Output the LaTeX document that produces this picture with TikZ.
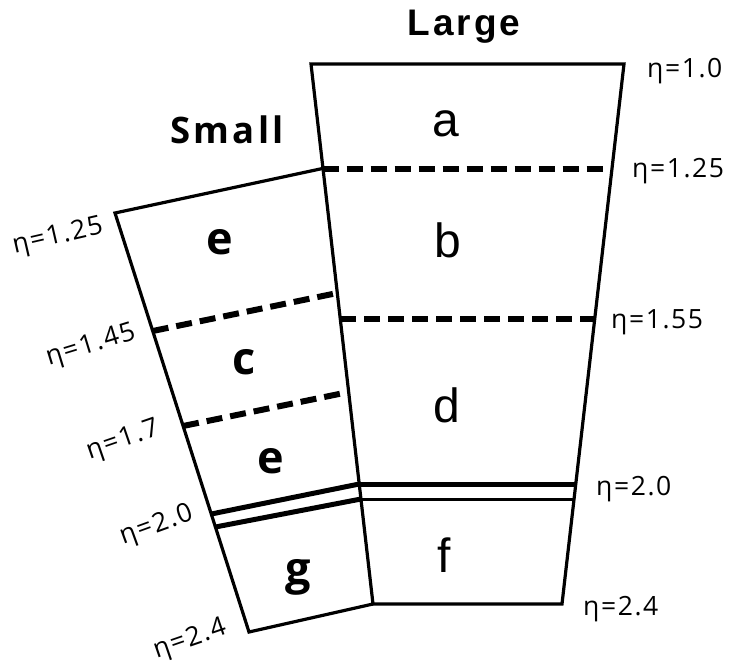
\documentclass[tikz,border=0pt]{standalone}
\usepackage{fontspec}
\setmainfont{Open Sans}
\newfontfamily\labfont[LetterSpace=6]{Open Sans}
\newfontfamily\titfont[LetterSpace=8]{Liberation Sans}
\newfontfamily\arialfont{Liberation Sans}
\newfontfamily\smallttl[LetterSpace=9]{Open Sans}
\tikzset{
  outline/.style={line width=3.2pt, line join=miter},
  dashln/.style={line width=6pt, dash pattern=on 16pt off 8pt},
  dblthick/.style={line width=5pt},
  dblthin/.style={line width=3pt},
  lab/.style={font=\labfont\fontsize{26.5}{26.5}\selectfont, inner sep=0pt},
  reglet/.style={font=\arialfont\fontsize{48}{48}\selectfont, inner sep=0pt, anchor=base},
  boldlet/.style={font=\bfseries\fontsize{45}{45}\selectfont, inner sep=0pt, anchor=base},
}
\begin{document}
\begin{tikzpicture}[x=1pt,y=-1pt]
\useasboundingbox (0,0) rectangle (732,665);
% large block corners
\coordinate (LTL) at (311,64);
\coordinate (LTR) at (624,64);
\coordinate (LBR) at (562,604);
\coordinate (LBL) at (373,604);
% small block corners
\coordinate (STL) at (115,213);
\coordinate (STR) at (322.5,168.5);
\coordinate (SBL) at (249,632);
% large section lines
\coordinate (L125a) at (322.7,169);
\coordinate (L125b) at (612.3,169);
\coordinate (L155a) at (340.3,319);
\coordinate (L155b) at (594.7,319);
\coordinate (L20ua) at (359.2,484);
\coordinate (L20ub) at (575.8,484);
\coordinate (L20la) at (361,499);
\coordinate (L20lb) at (574.1,499);
% small section lines
\coordinate (S145a) at (152.7,331);
\coordinate (S145b) at (337.3,293);
\coordinate (S17a) at (183.1,426);
\coordinate (S17b) at (348.7,392);
\coordinate (S20ua) at (211.3,514);
\coordinate (S20la) at (215.4,527);

\draw[outline] (LTL) -- (LTR) -- (LBR) -- (LBL) -- cycle;
\draw[outline] (STR) -- (STL) -- (SBL) -- (LBL);

\draw[dashln] (L125a) -- (L125b);
\draw[dashln] (L155a) -- (L155b);
\draw[dblthick] (L20ua) -- (L20ub);
\draw[dblthin] (L20la) -- (L20lb);

\draw[dashln] (S145a) -- (S145b);
\draw[dashln] (S17a) -- (S17b);
\draw[dblthick] (S20ua) -- (L20ua);
\draw[dblthick] (S20la) -- (L20la);

% titles
\node[font=\titfont\bfseries\fontsize{37}{37}\selectfont, inner sep=0pt, anchor=base] (tLarge) at (464,35) {Large};
\node[font=\smallttl\bfseries\fontsize{36.5}{36.5}\selectfont, inner sep=0pt, anchor=base] (tSmall) at (227,143) {Small};

% region letters
\node[reglet] (ra) at (446,136) {a};
\node[reglet] (rb) at (448,257) {b};
\node[reglet] (rd) at (447,422) {d};
\node[reglet] (rf) at (444,572) {f};
\node[boldlet] (re1) at (220,254) {e};
\node[boldlet] (rc) at (244,374) {c};
\node[boldlet] (re2) at (271,473) {e};
\node[boldlet] (rg) at (298,584) {g};

% right labels
\node[lab, anchor=base west] (r10) at (647,77) {η=1.0};
\node[lab, anchor=base west] (r125) at (632,177) {η=1.25};
\node[lab, anchor=base west] (r155) at (611,328) {η=1.55};
\node[lab, anchor=base west] (r20) at (596,495) {η=2.0};
\node[lab, anchor=base west] (r24) at (583,615) {η=2.4};

% left labels
\node[lab, rotate=13] (l125) at (58,237) {η=1.25};
\node[lab, rotate=17] (l145) at (91,346) {η=1.45};
\node[lab, rotate=19] (l17) at (123,441) {η=1.7};
\node[lab, rotate=20] (l20) at (157,526) {η=2.0};
\node[lab, rotate=19] (l24) at (190,640) {η=2.4};
\end{tikzpicture}
\end{document}
